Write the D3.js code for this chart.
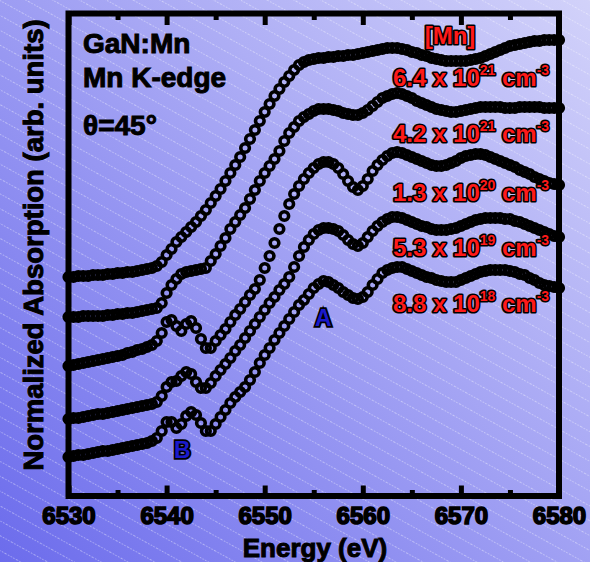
<!DOCTYPE html>
<html><head><meta charset="utf-8">
<script src="https://cdn.jsdelivr.net/npm/d3@7"></script>
<style>html,body{margin:0;padding:0;overflow:hidden;background:#a0a0f0}</style>
</head><body><svg id="c" width="590" height="562"></svg>
<script>
// ---- data ----
const energy = [
 6530,6530.5,6531,6531.5,6532,6532.5,6533,6533.5,6534,6534.5,
 6535,6535.5,6536,6536.5,6537,6537.5,6538,6538.5,6539,6539.5,
 6540,6540.5,6541,6541.5,6542,6542.5,6543,6543.5,6544,6544.5,
 6545,6545.5,6546,6546.5,6547,6547.5,6548,6548.5,6549,6549.5,
 6550,6550.5,6551,6551.5,6552,6552.5,6553,6553.5,6554,6554.5,
 6555,6555.5,6556,6556.5,6557,6557.5,6558,6558.5,6559,6559.5,
 6560,6560.5,6561,6561.5,6562,6562.5,6563,6563.5,6564,6564.5,
 6565,6565.5,6566,6566.5,6567,6567.5,6568,6568.5,6569,6569.5,
 6570,6570.5,6571,6571.5,6572,6572.5,6573,6573.5,6574,6574.5,
 6575,6575.5,6576,6576.5,6577,6577.5,6578,6578.5,6579,6579.5,
 6580];
const mn64e21 = [
 2.19,2.19,2.20,2.20,2.20,2.21,2.21,2.21,2.22,2.22,
 2.23,2.23,2.24,2.24,2.25,2.26,2.27,2.28,2.30,2.34,
 2.41,2.47,2.54,2.59,2.64,2.69,2.74,2.80,2.86,2.93,
 3.00,3.07,3.15,3.23,3.31,3.39,3.48,3.57,3.66,3.75,
 3.84,3.92,4.00,4.07,4.14,4.20,4.26,4.31,4.34,4.36,
 4.37,4.38,4.38,4.39,4.39,4.40,4.40,4.41,4.41,4.42,
 4.43,4.44,4.45,4.46,4.47,4.48,4.48,4.48,4.47,4.46,
 4.44,4.43,4.41,4.40,4.38,4.37,4.36,4.35,4.35,4.35,
 4.35,4.35,4.36,4.37,4.38,4.40,4.42,4.44,4.46,4.48,
 4.50,4.51,4.52,4.53,4.54,4.55,4.55,4.56,4.56,4.56,
 4.56];
const mn42e21 = [
 1.79,1.79,1.79,1.80,1.80,1.80,1.80,1.80,1.81,1.81,
 1.82,1.82,1.83,1.83,1.84,1.85,1.86,1.87,1.88,1.93,
 2.03,2.11,2.17,2.22,2.24,2.25,2.26,2.27,2.28,2.35,
 2.42,2.50,2.58,2.67,2.74,2.81,2.88,2.97,3.06,3.15,
 3.23,3.30,3.37,3.45,3.55,3.63,3.69,3.75,3.79,3.82,
 3.85,3.87,3.87,3.87,3.86,3.85,3.83,3.82,3.81,3.81,
 3.83,3.86,3.90,3.94,3.98,4.00,4.02,4.03,4.02,4.00,
 3.98,3.95,3.93,3.91,3.89,3.87,3.86,3.85,3.84,3.84,
 3.85,3.86,3.87,3.88,3.89,3.89,3.89,3.89,3.89,3.88,
 3.88,3.88,3.89,3.89,3.89,3.89,3.89,3.88,3.88,3.88,
 3.88];
const mn13e20 = [
 1.30,1.31,1.32,1.33,1.34,1.35,1.36,1.37,1.38,1.39,
 1.40,1.41,1.43,1.44,1.46,1.47,1.49,1.51,1.55,1.63,
 1.74,1.76,1.70,1.65,1.72,1.75,1.68,1.57,1.48,1.48,
 1.55,1.61,1.67,1.74,1.81,1.87,1.94,2.01,2.07,2.16,
 2.28,2.40,2.53,2.67,2.80,2.92,3.02,3.10,3.17,3.23,
 3.28,3.32,3.34,3.34,3.32,3.28,3.22,3.15,3.09,3.06,
 3.10,3.17,3.25,3.31,3.36,3.40,3.43,3.44,3.43,3.41,
 3.39,3.37,3.35,3.33,3.31,3.30,3.30,3.31,3.33,3.35,
 3.38,3.40,3.41,3.42,3.42,3.41,3.39,3.37,3.35,3.33,
 3.31,3.29,3.26,3.24,3.22,3.19,3.17,3.15,3.13,3.12,
 3.11];
const mn53e19 = [
 0.77,0.78,0.78,0.79,0.80,0.81,0.82,0.82,0.83,0.84,
 0.85,0.86,0.87,0.88,0.89,0.90,0.91,0.92,0.94,1.00,
 1.09,1.14,1.15,1.20,1.24,1.22,1.14,1.08,1.08,1.13,
 1.20,1.26,1.32,1.38,1.45,1.51,1.58,1.65,1.72,1.79,
 1.86,1.93,1.99,2.06,2.12,2.19,2.29,2.40,2.49,2.56,
 2.62,2.66,2.68,2.68,2.67,2.65,2.61,2.56,2.52,2.50,
 2.53,2.59,2.65,2.70,2.74,2.77,2.79,2.79,2.78,2.76,
 2.74,2.72,2.70,2.69,2.67,2.66,2.66,2.66,2.67,2.68,
 2.70,2.72,2.74,2.76,2.77,2.78,2.78,2.78,2.78,2.77,
 2.77,2.75,2.74,2.72,2.70,2.68,2.66,2.64,2.62,2.60,
 2.59];
const mn88e18 = [
 0.39,0.40,0.41,0.41,0.42,0.43,0.44,0.45,0.45,0.46,
 0.47,0.48,0.49,0.50,0.51,0.52,0.53,0.55,0.58,0.65,
 0.74,0.74,0.68,0.72,0.80,0.84,0.81,0.73,0.65,0.65,
 0.72,0.79,0.86,0.93,0.99,1.04,1.09,1.16,1.24,1.33,
 1.41,1.48,1.56,1.63,1.70,1.77,1.84,1.91,1.96,2.02,
 2.08,2.12,2.15,2.14,2.11,2.08,2.04,2.01,1.98,1.97,
 1.99,2.04,2.11,2.17,2.23,2.26,2.28,2.29,2.29,2.27,
 2.25,2.23,2.21,2.19,2.18,2.16,2.15,2.14,2.14,2.14,
 2.16,2.18,2.20,2.22,2.24,2.25,2.26,2.26,2.26,2.26,
 2.25,2.24,2.22,2.21,2.18,2.16,2.13,2.11,2.10,2.09,
 2.08];
const seriesValues = [mn64e21, mn42e21, mn13e20, mn53e19, mn88e18];
const concMantissa = ["6.4 x 10", "4.2 x 10", "1.3 x 10", "5.3 x 10", "8.8 x 10"];
const concExponent = ["21", "21", "20", "19", "18"];
const xTicks = [6530, 6540, 6550, 6560, 6570, 6580];
const xMinorTicks = [6535, 6545, 6555, 6565, 6575];
const infoLines = ["GaN:Mn", "Mn K-edge", "\u03b8=45\u00b0"];

// ---- drawing ----
const W = 590, H = 562;
const FONT = "'Liberation Sans', Arial, sans-serif";
const svg = d3.select("#c");
const defs = svg.append("defs");
const grad = defs.append("linearGradient").attr("id", "bg")
  .attr("gradientUnits", "userSpaceOnUse")
  .attr("x1", 0).attr("y1", H).attr("x2", W).attr("y2", 0);
grad.append("stop").attr("offset", 0).attr("stop-color", "#6c6cec");
grad.append("stop").attr("offset", 1).attr("stop-color", "#d2d2fa");
const pat = defs.append("pattern").attr("id", "stripes")
  .attr("patternUnits", "userSpaceOnUse").attr("width", 13).attr("height", 13)
  .attr("patternTransform", "rotate(29)");
pat.append("line").attr("x1", 0).attr("y1", 0.5).attr("x2", 13).attr("y2", 0.5)
  .attr("stroke", "#fff").attr("stroke-opacity", 0.4).attr("stroke-width", 1)
  .attr("stroke-dasharray", "1.5 1.5");
svg.append("rect").attr("width", W).attr("height", H).attr("fill", "url(#bg)");
svg.append("rect").attr("width", W).attr("height", H).attr("fill", "url(#stripes)");

const x = d3.scaleLinear().domain([6530, 6580]).range([68.5, 559]);
const y = d3.scaleLinear().domain([0, 4.83]).range([496, 13]);
const yTop = 13.5, yBot = 496;

// axes
function styleAxis(g, w) {
  g.select(".domain").remove();
  g.selectAll(".tick line").attr("stroke", "#000").attr("stroke-width", w);
}
svg.append("g").attr("transform", `translate(0,${yBot})`)
  .call(d3.axisBottom(x).tickValues(xMinorTicks).tickSize(-6).tickFormat(""))
  .call(g => styleAxis(g, 5));
svg.append("g").attr("transform", `translate(0,${yTop})`)
  .call(d3.axisTop(x).tickValues(xMinorTicks).tickSize(-6.5).tickFormat(""))
  .call(g => styleAxis(g, 5));
svg.append("g").attr("transform", `translate(0,${yTop})`)
  .call(d3.axisTop(x).tickValues(xTicks).tickSize(-11.5).tickFormat(""))
  .call(g => styleAxis(g, 5));
const bx = svg.append("g").attr("transform", `translate(0,${yBot})`)
  .call(d3.axisBottom(x).tickValues(xTicks).tickSize(-10.5).tickPadding(11).tickFormat(d3.format("d")))
  .call(g => styleAxis(g, 5));
bx.selectAll(".tick text").attr("fill", "#000").attr("stroke", "#000").attr("stroke-width", 1.6)
  .style("font-family", FONT).style("font-weight", "bold").style("font-size", "24px");

// frame
svg.append("rect").attr("x", x(6530)).attr("y", yTop)
  .attr("width", x(6580) - x(6530)).attr("height", yBot - yTop)
  .attr("fill", "none").attr("stroke", "#000").attr("stroke-width", 6);

// curves (open circle markers)
seriesValues.forEach(vals => {
  svg.append("g").selectAll("circle")
    .data(energy.map((e, i) => [e, vals[i]]))
    .join("circle")
    .attr("cx", d => x(d[0])).attr("cy", d => y(d[1]))
    .attr("r", 4.3).attr("fill", "none")
    .attr("stroke", "#000").attr("stroke-width", 3.6);
});

// info text
const infoY = [53, 87, 135];
infoLines.forEach((t, i) => {
  svg.append("text").attr("x", 83).attr("y", infoY[i]).text(t)
    .attr("font-family", FONT).attr("font-weight", "bold").attr("font-size", 28)
    .attr("fill", "#000").attr("stroke", "#000").attr("stroke-width", 1);
});

// concentration labels
function redText(sel) {
  return sel.attr("font-family", FONT).attr("font-weight", "bold")
    .attr("fill", "#ff1a1a").attr("stroke", "#000").attr("stroke-width", 3.2)
    .attr("paint-order", "stroke").attr("stroke-linejoin", "round");
}
redText(svg.append("text").attr("x", 450).attr("y", 44).attr("text-anchor", "middle")
  .attr("font-size", 24).text("[Mn]"));
const labY = [86, 142, 201, 256, 312];
concMantissa.forEach((m, i) => {
  const t = redText(svg.append("text").attr("x", 393).attr("y", labY[i]).attr("font-size", 24));
  t.append("tspan").text(m);
  t.append("tspan").attr("font-size", 14).attr("dy", -11).text(concExponent[i]);
  t.append("tspan").attr("dy", 11).text(" cm");
  t.append("tspan").attr("font-size", 14).attr("dy", -11).text("-3");
});

// feature letters
function blueText(sel) {
  return sel.attr("font-family", FONT).attr("font-weight", "bold").attr("font-size", 23)
    .attr("fill", "#1a1acc").attr("stroke", "#000").attr("stroke-width", 3.5)
    .attr("paint-order", "stroke");
}
blueText(svg.append("text").attr("x", 315).attr("y", 326).text("A"));
blueText(svg.append("text").attr("x", 174).attr("y", 458).text("B"));

// axis titles
svg.append("text").attr("x", 315).attr("y", 557).attr("text-anchor", "middle")
  .attr("font-family", FONT).attr("font-weight", "bold").attr("font-size", 26)
  .attr("fill", "#000").attr("stroke", "#000").attr("stroke-width", 1)
  .text("Energy (eV)");
svg.append("text").attr("transform", "translate(43,245) rotate(-90)")
  .attr("text-anchor", "middle")
  .attr("font-family", FONT).attr("font-weight", "bold").attr("font-size", 27.5)
  .attr("fill", "#000").attr("stroke", "#000").attr("stroke-width", 1)
  .text("Normalized Absorption (arb. units)");
</script>
</body></html>
